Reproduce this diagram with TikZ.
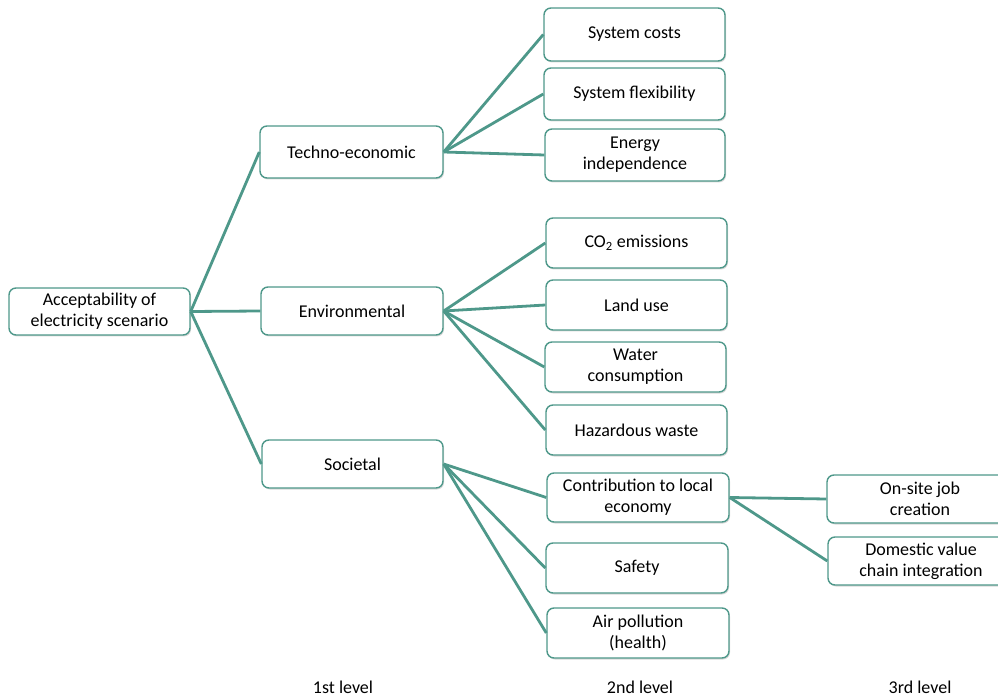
\documentclass[tikz,border=0pt]{standalone}
\usepackage{fontspec}
\setmainfont{Carlito}
\usetikzlibrary{shadows}
\definecolor{teal1}{RGB}{78,152,138}
\tikzset{
  box/.style={draw=teal1, line width=1.4pt, rounded corners=7pt, fill=white,
    align=center, inner sep=2pt, font=\fontsize{18}{21}\selectfont,
    drop shadow={opacity=0.25, shadow xshift=1pt, shadow yshift=-1.5pt, fill=black!60}},
  link/.style={draw=teal1, line width=2.8pt},
  lvl/.style={font=\fontsize{18}{21}\selectfont}
}
\begin{document}
\begin{tikzpicture}[x=1pt,y=-1pt]
\useasboundingbox (0,0) rectangle (998,700);
% level 0
\node[box, minimum width=181pt, minimum height=47pt] (root) at (99.5,311.5) {Acceptability of\\electricity scenario};
% level 1
\node[box, minimum width=183pt, minimum height=52pt] (tech) at (351.5,152) {Techno-economic};
\node[box, minimum width=182pt, minimum height=48pt] (env) at (352,311) {Environmental};
\node[box, minimum width=181pt, minimum height=48pt] (soc) at (352.5,464) {Societal};
% level 2
\node[box, minimum width=181pt, minimum height=53pt] (cost) at (634.5,34.5) {System costs};
\node[box, minimum width=181pt, minimum height=52pt] (flex) at (634.5,94) {System flexibility};
\node[box, minimum width=180pt, minimum height=52pt] (indep) at (635,155) {Energy\\independence};
\node[box, minimum width=181pt, minimum height=50pt] (co2) at (636.5,243) {CO\textsubscript{2} emissions};
\node[box, minimum width=181pt, minimum height=50pt] (land) at (636.5,305) {Land use};
\node[box, minimum width=181pt, minimum height=50pt] (water) at (635.5,367) {Water\\consumption};
\node[box, minimum width=181pt, minimum height=50pt] (haz) at (636.5,430) {Hazardous waste};
\node[box, minimum width=182pt, minimum height=49pt] (contr) at (638,497.5) {Contribution to local\\economy};
\node[box, minimum width=182pt, minimum height=50pt] (safe) at (637,568) {Safety};
\node[box, minimum width=182pt, minimum height=50pt] (air) at (638,633) {Air pollution\\(health)};
% level 3
\node[box, minimum width=186pt, minimum height=48pt] (job) at (920,499) {On-site job\\creation};
\node[box, minimum width=186pt, minimum height=48pt] (dom) at (921,561) {Domestic value\\chain integration};
% level labels
\node[lvl] (l1) at (343,687) {1st level};
\node[lvl] (l2) at (640,687) {2nd level};
\node[lvl] (l3) at (920,687) {3rd level};
% links
\draw[link] (root.east) -- (tech.west);
\draw[link] (root.east) -- (env.west);
\draw[link] (root.east) -- (soc.west);
\draw[link] (tech.east) -- (cost.west);
\draw[link] (tech.east) -- (flex.west);
\draw[link] (tech.east) -- (indep.west);
\draw[link] (env.east) -- (co2.west);
\draw[link] (env.east) -- (land.west);
\draw[link] (env.east) -- (water.west);
\draw[link] (env.east) -- (haz.west);
\draw[link] (soc.east) -- (contr.west);
\draw[link] (soc.east) -- (safe.west);
\draw[link] (soc.east) -- (air.west);
\draw[link] (contr.east) -- (job.west);
\draw[link] (contr.east) -- (dom.west);
\end{tikzpicture}
\end{document}
